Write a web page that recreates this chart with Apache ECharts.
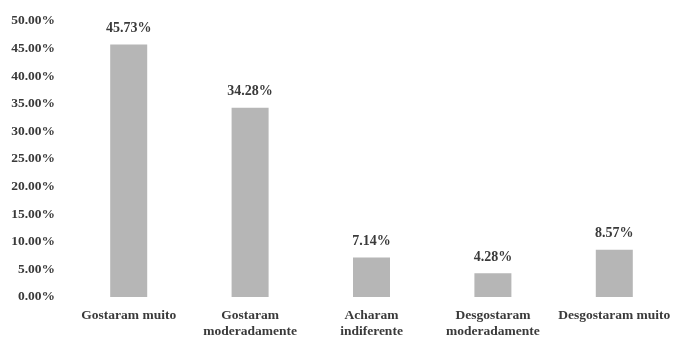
<!DOCTYPE html>
<html>
<head>
<meta charset="utf-8">
<script src="https://cdn.jsdelivr.net/npm/echarts@6/dist/echarts.min.js"></script>
<style>
  html, body { margin: 0; padding: 0; background: #fff; }
  #chart { width: 675px; height: 337px; }
</style>
</head>
<body>
<div id="chart"></div>
<script>
const categories = ['Gostaram muito', 'Gostaram\nmoderadamente', 'Acharam\nindiferente', 'Desgostaram\nmoderadamente', 'Desgostaram muito']
const values = [45.73, 34.28, 7.14, 4.28, 8.57]
const yTicks = [0, 5, 10, 15, 20, 25, 30, 35, 40, 45, 50]

const textStyle = {
  fontFamily: 'Liberation Serif',
  fontWeight: 'bold',
  fontSize: 14,
  color: '#3a3a3a'
}

const chart = echarts.init(document.getElementById('chart'))
chart.setOption({
  animation: false,
  grid: { left: 68, right: 0, top: 21, bottom: 40, containLabel: false, outerBoundsMode: 'none' },
  xAxis: {
    type: 'category',
    data: categories,
    axisLine: { show: false },
    axisTick: { show: false },
    axisLabel: Object.assign({}, textStyle, { fontSize: 13.5, margin: 11, lineHeight: 16, interval: 0 })
  },
  yAxis: {
    type: 'value',
    min: 0,
    max: 50,
    interval: 5,
    splitLine: { show: false },
    axisLine: { show: false },
    axisTick: { show: false },
    axisLabel: Object.assign({}, textStyle, {
      fontSize: 13.5,
      margin: 13,
      formatter: v => yTicks.includes(v) ? v.toFixed(2) + '%' : ''
    })
  },
  series: [{
    type: 'bar',
    data: values,
    barWidth: 37,
    itemStyle: { color: '#b6b6b6' },
    label: Object.assign({}, textStyle, {
      show: true,
      position: 'top',
      distance: 9,
      formatter: p => p.value.toFixed(2) + '%'
    })
  }]
})
</script>
</body>
</html>
